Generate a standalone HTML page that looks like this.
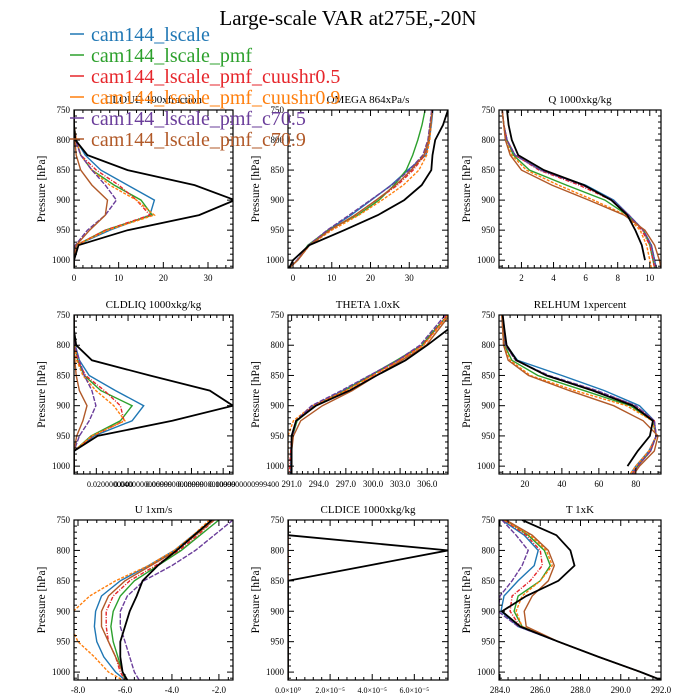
<!DOCTYPE html>
<html><head><meta charset="utf-8"><style>
html,body{margin:0;padding:0;background:#fff;}
svg{display:block;font-family:"Liberation Serif",serif;}
</style></head><body>
<svg id="chart" width="700" height="700" viewBox="0 0 700 700" xmlns="http://www.w3.org/2000/svg">
<text x="348" y="25" font-size="21" text-anchor="middle">Large-scale VAR at275E,-20N</text>
</svg>
<script>
const levels = [750,775,800,825,850,875,900,925,950,975,1000,1013];
const seriesNames = ["cam144_lscale","cam144_lscale_pmf","cam144_lscale_pmf_cuushr0.5","cam144_lscale_pmf_cuushr0.9","cam144_lscale_pmf_c70.5","cam144_lscale_pmf_c70.9","obs"];
const seriesColors = ["#1f77b4","#2ca02c","#e6262b","#ff7f0e","#6a3d9a","#b15928","#000000"];
const seriesDash = ["","","4,1.5,1,1.5","3,1.5","5,1.5","",""];

const cloudVals = [
 [0,0,0.5,2.5,6,12,18,17,8,0.5,0,0],
 [0,0,0.5,1.5,4,9,15,17.5,7,0.5,0,0],
 [0,0,0.5,1.5,5,10,14,17,7,0.5,0,0],
 [0,0,0.5,1.5,4,8,14,18,7.5,0.5,0,0],
 [0,0,0.3,1.5,4,7,9.5,7,3,0.3,0,0],
 [0,0,0.2,0.5,1.5,4,7.5,7,3.5,0.5,0,0],
 [0,0,0.3,3,12,27,36,28,12,1,0,0]];
const cldliqVals = [
 [0,0,0.3,1.2,3.4,9.3,15.6,13,4.5,0.1,0,0],
 [0,0,0.2,0.8,2.3,6,13,10.4,3.8,0,0,0],
 [0,0,0.2,0.8,2.6,6.8,10.4,11.2,4.2,0,0,0],
 [0,0,0.2,0.6,2,4.9,8.9,11.4,4,0,0,0],
 [0,0,0.2,1.2,2.3,4,4.9,3.4,1.2,0,0,0],
 [0,0,0,0.2,0.5,1.2,2.9,2,0.6,0,0,0],
 [0,0,0.5,4,17,30.4,35.6,22,5.3,0,0,0]];
const omegaVals = [
 [36.1,35.7,35.2,34.3,29.6,25.3,20.2,15,9,4.2,1.2,-1],
 [34.1,33.3,32.2,30.9,29.2,26.1,22.2,16.7,9,3.8,1.2,-1],
 [36,35.5,35,34,31,27,21.5,16,9.5,4.2,1.2,-1],
 [35.8,35.6,35.3,34.5,32.5,28.5,23,17,10,4.3,1.2,-1],
 [35.8,35.3,34.8,33.5,30,25.5,20,14.5,8.8,4,1,-1],
 [36,35.5,35,33.8,30.5,26.5,21.5,16,9.5,4.2,1.2,-1],
 [40,38.7,36.7,36,35.7,33.2,28.7,21.9,13.2,4.2,0,-1]];
const qVals = [
 [0.8,0.9,1.1,1.6,3.2,6,7.75,8.7,9.6,10.1,10.3,10.4],
 [0.8,0.9,1.1,1.5,2.5,4.8,7.2,8.6,9.6,10,10.2,10.3],
 [0.8,0.9,1.1,1.6,3.1,5.6,7.6,8.7,9.5,10,10.2,10.3],
 [0.8,0.9,1.0,1.4,2.3,4.3,6.5,8.5,9.4,9.8,10,10.1],
 [0.8,0.9,1.1,1.6,3.2,5.8,7.7,8.7,9.6,10.1,10.3,10.4],
 [0.8,0.9,1.0,1.3,2.0,3.9,6.2,8.4,9.7,10.3,10.6,10.7],
 [1.1,1.2,1.4,1.8,3.4,5.9,7.6,8.6,9.1,9.5,9.7,null]];
const thetaVals = [
 [308.3,306.9,305.5,302.8,299.7,296.7,293.4,291.6,291.1,290.9,290.9,290.9],
 [308.3,306.8,305.4,302.6,299.7,296.9,293.6,291.6,291.1,291,291,291],
 [308.2,306.9,305.5,302.9,300,297,293.5,291.5,291,290.9,290.8,290.8],
 [308.3,307,305.6,303,300,297,293.3,291.2,290.6,290.6,290.6,290.6],
 [308,306.6,305.2,302.7,299.6,296.5,293.2,291.5,291.1,291,291,291],
 [308.5,307.2,305.9,303.2,300.4,297.7,294.4,292,291.2,291,291,291],
 [309.8,308.2,306,303.6,300.4,297.4,293.7,291.5,291,291,291,291]];
const relhumVals = [
 [8,9,10,16,40,63,82,90,91,87,80,77],
 [8,8.5,9,13,27,52,77,89,91,88,81,78],
 [8,8.8,9.5,15,32,58,80,90,91,88,81,78],
 [7.5,8,8.5,12,23,47,75,89,91,87,80,77],
 [8,8.8,9.5,15,33,59,80,90,91,88,81,78],
 [7.5,8,8.5,11,22,44,68,84,92,90,82,79],
 [8,9,10.1,15.5,31.7,56.8,78.4,89.2,87.6,81,75.5,null]];
const uVals = [
 [-2.3,-3.1,-3.9,-5,-6.2,-7,-7.25,-7.3,-7.2,-6.9,-6.4,-6.0],
 [-2.0,-2.8,-3.6,-4.6,-5.6,-6.2,-6.5,-6.6,-6.5,-6.3,-6.1,-6.0],
 [-2.2,-2.9,-3.7,-4.7,-5.8,-6.5,-6.8,-6.8,-6.7,-6.4,-6.2,-6.0],
 [-2.4,-3.1,-3.9,-5.0,-6.4,-7.5,-8.2,-8.3,-8.0,-7.3,-6.7,-6.1],
 [-1.4,-2.2,-3.0,-4.0,-5.2,-5.9,-6.2,-6.2,-6.0,-5.8,-5.6,-5.4],
 [-2.2,-3.0,-3.8,-4.9,-6.0,-6.7,-7.0,-7.0,-6.7,-6.4,-6.1,-5.9],
 [-2.3,-3.05,-3.8,-4.6,-5.25,-5.5,-5.8,-6,-6.2,-6.2,-6.1,-5.9]];
const cldiceVals = [
 [0,0,0,0,0,0,0,0,0,0,0,0],
 [0,0,0,0,0,0,0,0,0,0,0,0],
 [0,0,0,0,0,0,0,0,0,0,0,0],
 [0,0,0,0,0,0,0,0,0,0,0,0],
 [0,0,0,0,0,0,0,0,0,0,0,0],
 [0,0,0,0,0,0,0,0,0,0,0,0],
 [0,0,7.6,3.8,0,0,0,0,0,0,0,0,0]];
const tVals = [
 [284.1,285.2,285.9,285.7,284.9,284.2,284.05,284.9,286.9,288.9,291,292],
 [284.3,285.4,286.2,286.5,286.0,284.9,284.7,285.1,286.9,288.9,291,292],
 [284.2,285.3,286.0,286.1,285.5,284.6,284.5,285.0,286.9,288.9,291,292],
 [284.2,285.5,286.3,286.6,286.0,285.1,284.8,285.1,286.9,288.9,291,292],
 [284.1,284.8,285.4,285.1,284.6,284.0,283.9,284.9,286.9,288.9,291,292],
 [284.3,285.6,286.4,286.7,286.4,285.6,285.2,285.3,286.9,288.9,291,292],
 [285.1,286.8,287.5,287.7,286.9,285.3,284.1,285,286.9,288.9,291,292]];

const cloudTicks = [0,10,20,30];
const omegaTicks = [0,10,20,30];
const qTicks = [2,4,6,8,10];
const thetaTicks = [291,294,297,300,303,306];
const relhumTicks = [20,40,60,80];
const uTicks = [-8,-6,-4,-2];
const cldiceTicks = [0,2,4,6];
const tTicks = [284,286,288,290,292];
const cldliqTicks = [5,12.1,19.2,26.3,33.4];
const pTicks = [750,800,850,900,950,1000];

const NS = "http://www.w3.org/2000/svg";
const svg = document.getElementById('chart');
function mk(tag, attrs, parent){const e=document.createElementNS(NS,tag);for(const k in attrs)e.setAttribute(k,attrs[k]);(parent||svg).appendChild(e);return e;}

const panels = [
 {name:"cloud",title:"CLOUD  100xfraction",vals:cloudVals,xmin:0,xmax:35.6,ticks:cloudTicks,fmt:v=>String(v),box:[74,110,233,268]},
 {name:"omega",title:"OMEGA  864xPa/s",vals:omegaVals,xmin:-1.3,xmax:40,ticks:omegaTicks,fmt:v=>String(v),box:[288,110,448,268]},
 {name:"q",title:"Q  1000xkg/kg",vals:qVals,xmin:0.6,xmax:10.7,ticks:qTicks,fmt:v=>String(v),box:[499,110,661,268]},
 {name:"cldliq",title:"CLDLIQ  1000xkg/kg",vals:cldliqVals,xmin:0,xmax:35.6,ticks:cldliqTicks,fmt:null,box:[74,315,233,474]},
 {name:"theta",title:"THETA  1.0xK",vals:thetaVals,xmin:290.6,xmax:308.3,ticks:thetaTicks,fmt:v=>v.toFixed(1),box:[288,315,448,474]},
 {name:"relhum",title:"RELHUM  1xpercent",vals:relhumVals,xmin:6,xmax:93.6,ticks:relhumTicks,fmt:v=>String(v),box:[499,315,661,474]},
 {name:"u",title:"U  1xm/s",vals:uVals,xmin:-8.17,xmax:-1.4,ticks:uTicks,fmt:v=>v.toFixed(1),box:[74,520,233,680]},
 {name:"cldice",title:"CLDICE  1000xkg/kg",vals:cldiceVals,xmin:0,xmax:7.6,ticks:cldiceTicks,fmt:null,box:[288,520,448,680]},
 {name:"t",title:"T  1xK",vals:tVals,xmin:283.95,xmax:292,ticks:tTicks,fmt:v=>v.toFixed(1),box:[499,520,661,680]}
];
const PMIN=750, PMAX=1013;

panels.forEach(pn=>{
  const [x0,y0,x1,y1]=pn.box;
  const g=mk('g',{});
  
  
  const sx=v=>x0+(v-pn.xmin)/(pn.xmax-pn.xmin)*(x1-x0);
  const sy=p=>y0+(p-PMIN)/(PMAX-PMIN)*(y1-y0);
  const clipId='clip-'+pn.name;
  const cp=mk('clipPath',{id:clipId},g);
  mk('rect',{x:x0,y:y0,width:x1-x0,height:y1-y0},cp);
  const tt=mk('text',{x:(x0+x1)/2,y:y0-7,'font-size':11,'text-anchor':'middle'},g);
  tt.textContent=pn.title;
  
  
  const yl=mk('text',{x:0,y:0,'font-size':11.5,'text-anchor':'middle',transform:`translate(${x0-29},${(y0+y1)/2}) rotate(-90)`},g);
  yl.textContent='Pressure [hPa]';
  
  
  const lg=mk('g',{'clip-path':`url(#${clipId})`},g);
  pn.vals.forEach((arr,si)=>{
    let d='';let started=false;
    levels.forEach((p,i)=>{const v=arr[i];if(v===null||v===undefined)return;d+=(started?'L':'M')+sx(v).toFixed(1)+','+sy(p).toFixed(1);started=true;});
    const path=mk('path',{d:d,fill:'none',stroke:seriesColors[si],'stroke-width':si===6?1.8:1.4,'stroke-dasharray':seriesDash[si]},lg);
    
    
  });
  mk('rect',{x:x0,y:y0,width:x1-x0,height:y1-y0,fill:'none',stroke:'#000','stroke-width':1.2},g);
  for(let p=750;p<=1010;p+=10){
    const major=p%50===0;const L=major?6:3;const y=sy(p);
    mk('line',{x1:x0,x2:x0+L,y1:y,y2:y,stroke:'#000','stroke-width':1},g);
    mk('line',{x1:x1,x2:x1-L,y1:y,y2:y,stroke:'#000','stroke-width':1},g);
  }
  pTicks.forEach(p=>{
    const t=mk('text',{x:x0-4,y:sy(p)+3,'font-size':9,'text-anchor':'end'},g);
    t.textContent=p;
    
    
  });
  const tk=pn.ticks;
  const step=tk[1]-tk[0];
  const minor=step/5;
  for(let v=tk[0]-step*2;v<=pn.xmax+1e-9;v+=minor){
    if(v<pn.xmin-1e-9)continue;
    const k=Math.round((v-tk[0])/minor);const major=k%5===0;const L=major?6:3;const x=sx(v);
    mk('line',{x1:x,x2:x,y1:y1,y2:y1-L,stroke:'#000','stroke-width':1},g);
    mk('line',{x1:x,x2:x,y1:y0,y2:y0+L,stroke:'#000','stroke-width':1},g);
  }
  if(pn.fmt){
    tk.forEach(v=>{
      const t=mk('text',{x:sx(v),y:y1+13,'font-size':9,'text-anchor':'middle'},g);
      t.textContent=pn.fmt(v);
      
      
    });
  } else if(pn.name==='cldice'){
    const labs=["0.0\u00d710\u2070","2.0\u00d710\u207b\u2075","4.0\u00d710\u207b\u2075","6.0\u00d710\u207b\u2075"];
    tk.forEach((v,i)=>{
      const t=mk('text',{x:sx(v),y:y1+13,'font-size':8,'text-anchor':'middle'},g);
      t.textContent=labs[i];
      
      
    });
  } else {
    const labs=["0.0200000000","0.0400000000999","0.0600000000999","0.0800000000999","0.1000000000999400"];
    tk.forEach((v,i)=>{
      const t=mk('text',{x:i===0?87:sx(v)-14,y:y1+13,'font-size':8,'text-anchor':'start'},g);
      t.textContent=labs[i];
      
      
    });
  }
});

const leg=mk('g',{});


for(let i=0;i<6;i++){
  const y=34+i*21;
  const ln=mk('line',{x1:70,x2:84,y1:y,y2:y,stroke:seriesColors[i],'stroke-width':1.5},leg);
  
  
  const t=mk('text',{x:91,y:y+7,'font-size':20,fill:seriesColors[i]},leg);
  t.textContent=seriesNames[i];
  
  
}
</script>
</body></html>
